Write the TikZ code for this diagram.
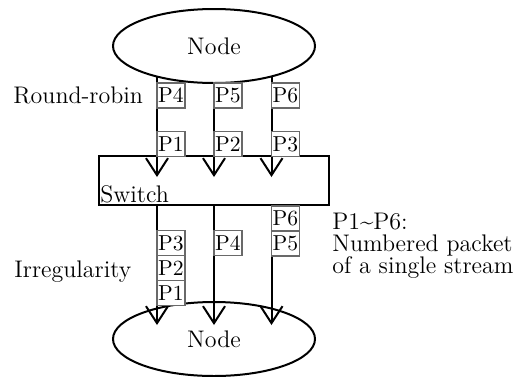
\documentclass[tikz,border=0pt]{standalone}
\usepackage{tikz}
\usetikzlibrary{positioning}
\usetikzlibrary{arrows.meta,shapes.geometric}
\definecolor{boxgray}{RGB}{105,105,105}
\tikzset{
  pkt/.style={draw=boxgray,line width=0.8pt,fill=white,minimum width=14pt,minimum height=12.5pt,inner sep=0pt,outer sep=0pt,font=\fontsize{10.8}{10}\selectfont,anchor=west},
  flow/.style={line width=1pt,-{Straight Barb[length=8.5pt,width=11pt,line width=1pt]}},
  lbl/.style={inner sep=0pt,font=\fontsize{12}{11}\selectfont},
  host/.style={draw,ellipse,line width=1pt,minimum width=101pt,minimum height=37pt,inner sep=0pt,font=\fontsize{12}{11}\selectfont}
}
\begin{document}
\begin{tikzpicture}[x=0.5pt,y=-0.5pt]
	  \useasboundingbox (0,0) rectangle (519,376);
	  \node (N1) [host] at (214,46) {Node};
	  \node (S) [draw,rectangle,line width=1pt,minimum width=115pt,minimum height=24.5pt] at (214,180.5) {};
	  \node (SW) [lbl,anchor=base west] at (100,202) {Switch};
	  \node (N2) [host] at (214,339) {Node};
	  \coordinate (a1) at (157,177);
	  \coordinate (a2) at (214,177);
	  \coordinate (a3) at (271.5,177);
	  \coordinate (b1) at (157,325);
	  \coordinate (b2) at (214,325);
	  \coordinate (b3) at (271.5,325);
	  \draw[flow] (a1 |- N1.208) -- (a1);
	  \draw[flow] (N1.south) -- (a2);
	  \draw[flow] (a3 |- N1.332) -- (a3);
	  \draw[flow] (S.south -| b1) -- (b1);
	  \draw[flow] (S.south) -- (b2);
	  \draw[flow] (S.south -| b3) -- (b3);
	  \node (P4) [pkt] at (157,95.5) {P4};
	  \node (P5) [pkt] at (214,95.5) {P5};
	  \node (P6) [pkt] at (271.5,95.5) {P6};
	  \node (P1) [pkt] at (157,144) {P1};
	  \node (P2) [pkt] at (214,144) {P2};
	  \node (P3) [pkt] at (271.5,144) {P3};
	  \node (Q3) [pkt] at (157,243) {P3};
	  \node (Q2) [pkt,below=0pt of Q3] {P2};
	  \node (Q1) [pkt,below=0pt of Q2] {P1};
	  \node (Q4) [pkt] at (214,243) {P4};
	  \node (Q6) [pkt] at (271.5,218.5) {P6};
	  \node (Q5) [pkt,below=0pt of Q6] {P5};
	  \node (RR) [lbl,anchor=base west] at (13,103) {Round-robin};
	  \node (IR) [lbl,anchor=base west] at (14,277) {Irregularity};
	  \node (LG) [lbl,anchor=north west,align=left] at (332,213) {P1\textasciitilde P6:\\Numbered packet\\of a single stream};
	\end{tikzpicture}
\end{document}
